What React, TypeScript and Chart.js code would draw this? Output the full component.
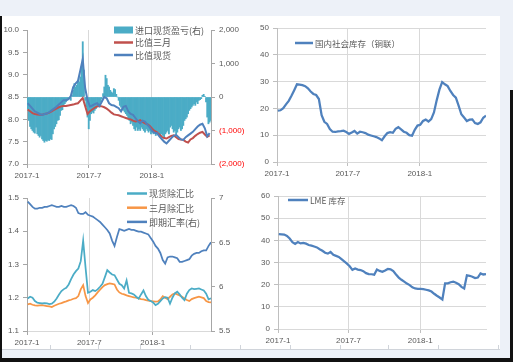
import React, { useEffect, useRef } from "react";
import { Chart, registerables } from "chart.js";

Chart.register(...registerables);

// ---------- shared x-axis (days since 2017-01-01) ----------
const X_TICKS = [0, 181, 365];
const X_LABELS = ["2017-1", "2017-7", "2018-1"];
const FIRST_DAY = 2; // first observation (2017-01-03)
const WEEK = 7;
const HALF_WEEK = 3.5;

// ---------- panel 1: 比值 / 进口盈亏 ----------
const ratioSpot = [
  8.36, 8.30, 8.24, 8.18, 8.15, 8.12, 8.10, 8.12, 8.13, 8.16, 8.20, 8.24, 8.28, 8.33, 8.38, 8.43,
  8.43, 8.45, 8.52, 8.72, 8.80, 8.86, 9.10, 9.35, 8.70, 8.43, 8.29, 8.31, 8.34, 8.36, 8.30, 8.40,
  8.50, 8.47, 8.36, 8.32, 8.31, 8.28, 8.25, 8.18, 8.28, 8.30, 8.18, 8.12, 8.10, 8.03, 7.96, 7.91,
  7.97, 7.95, 7.88, 7.82, 7.74, 7.70, 7.69, 7.62, 7.56, 7.50, 7.46, 7.52, 7.58, 7.63, 7.65, 7.60,
  7.55, 7.54, 7.60, 7.64, 7.68, 7.72, 7.78, 7.84, 7.88, 7.90, 7.80, 7.62, 7.69,
];
const ratio3M = [
  8.22, 8.18, 8.14, 8.12, 8.11, 8.10, 8.10, 8.12, 8.13, 8.15, 8.18, 8.21, 8.24, 8.27, 8.29, 8.30,
  8.30, 8.31, 8.32, 8.33, 8.35, 8.36, 8.42, 8.48, 8.30, 8.12, 8.18, 8.22, 8.26, 8.29, 8.30, 8.29,
  8.27, 8.24, 8.20, 8.15, 8.11, 8.10, 8.09, 8.07, 8.05, 8.03, 8.01, 8.00, 7.97, 7.95, 7.96, 7.98,
  7.94, 7.91, 7.89, 7.85, 7.79, 7.74, 7.71, 7.66, 7.61, 7.58, 7.57, 7.60, 7.63, 7.64, 7.60, 7.56,
  7.55, 7.54, 7.50, 7.48, 7.55, 7.58, 7.63, 7.67, 7.70, 7.72, 7.66, 7.61, 7.64,
];
const importPL = [
  -350, -700, -880, -950, -1000, -1050, -1080, -900, -1100, -1150, -1200, -1150, -1250, -1300, -1350, -1300,
  -1320, -1280, -1300, -1250, -1270, -1100, -950, -880, -800, -700, -680, -550, -400, -380, -250, -200,
  -150, -100, -80, -50, -100, 50, 200, 400, 300, 350, 500, 450, 600, 900, 1650, 800,
  -100, -300, -600, -950, -700, -500, -450, -480, -400, -350, -300, -250, -280, -150, -50, 100,
  300, 650, 550, 350, 300, 200, 150, 120, 250, 220, 80, 0, -100, -250, -300, -350,
  -400, -450, -500, -550, -650, -700, -800, -750, -850, -950, -1000, -900, -1000, -950, -1000, -900,
  -950, -1000, -1050, -950, -1000, -1050, -1000, -1100, -1050, -1100, -1000, -1150, -1100, -1050, -1150, -1200,
  -1100, -1150, -1200, -1100, -1050, -1000, -1100, -900, -850, -950, -1050, -1000, -1100, -1050, -950, -900,
  -1000, -950, -850, -700, -650, -600, -500, -400, -350, -300, -250, -200, -250, -150, -200, -100,
  -80, -50, 50, 80, 20, -150, -600, -800, -750, -700,
];
const P1_LEFT_TICKS = { min: 7, max: 10, step: 0.5 };
const P1_RIGHT_TICKS = { min: -2000, max: 2000, step: 1000 };

// ---------- panel 2: 国内社会库存 ----------
const domesticStock = [
  19.2, 19.3, 20.1, 21.5, 22.8, 24.7, 26.8, 29.0, 28.9, 28.7, 28.3, 27.5, 26.3, 25.4, 25.0, 23.5,
  17.5, 15.0, 14.2, 12.3, 11.3, 11.2, 11.4, 11.5, 11.7, 11.2, 10.5, 11.0, 11.6, 10.6, 11.3, 11.1,
  10.8, 10.2, 9.9, 9.6, 9.3, 8.8, 8.1, 9.6, 10.8, 11.1, 10.9, 12.4, 13.0, 12.2, 11.3, 10.9,
  10.0, 9.8, 12.0, 13.6, 13.9, 15.3, 15.8, 15.1, 16.0, 18.5, 23.0, 27.0, 29.8, 29.0, 28.3, 26.5,
  25.0, 24.0, 21.0, 17.8, 16.6, 15.3, 15.8, 15.9, 14.5, 14.2, 14.8, 16.5, 17.3,
];

// ---------- panel 3: 除汇比 / 即期汇率 ----------
const spotExRatio = [
  1.198, 1.203, 1.200, 1.190, 1.185, 1.184, 1.183, 1.184, 1.183, 1.181, 1.182, 1.188, 1.198, 1.210, 1.220, 1.226,
  1.230, 1.240, 1.256, 1.270, 1.280, 1.288, 1.310, 1.372, 1.290, 1.215, 1.218, 1.223, 1.220, 1.225, 1.233, 1.242,
  1.262, 1.283, 1.276, 1.270, 1.268, 1.255, 1.242, 1.238, 1.228, 1.252, 1.215, 1.213, 1.210, 1.203, 1.197, 1.210,
  1.222, 1.205, 1.194, 1.190, 1.186, 1.178, 1.182, 1.190, 1.198, 1.202, 1.200, 1.182, 1.200, 1.213, 1.218, 1.210,
  1.200, 1.193, 1.212, 1.223, 1.228, 1.226, 1.227, 1.228, 1.225, 1.222, 1.212, 1.195, 1.198,
];
const m3ExRatio = [
  1.180, 1.182, 1.179, 1.177, 1.176, 1.177, 1.178, 1.176, 1.175, 1.174, 1.172, 1.176, 1.179, 1.182, 1.184, 1.187,
  1.189, 1.192, 1.194, 1.197, 1.199, 1.205, 1.225, 1.238, 1.205, 1.184, 1.195, 1.200, 1.207, 1.216, 1.224, 1.232,
  1.238, 1.241, 1.243, 1.242, 1.240, 1.225, 1.216, 1.212, 1.210, 1.207, 1.205, 1.203, 1.201, 1.200, 1.198, 1.196,
  1.195, 1.193, 1.191, 1.190, 1.189, 1.188, 1.189, 1.195, 1.205, 1.200, 1.196, 1.203, 1.210, 1.213, 1.210, 1.207,
  1.203, 1.198, 1.193, 1.190, 1.196, 1.199, 1.201, 1.203, 1.201, 1.199, 1.190, 1.187, 1.186,
];
const usdCny = [
  6.96, 6.93, 6.90, 6.88, 6.88, 6.89, 6.89, 6.90, 6.90, 6.91, 6.92, 6.91, 6.90, 6.90, 6.91, 6.90,
  6.90, 6.91, 6.92, 6.91, 6.89, 6.83, 6.82, 6.82, 6.84, 6.81, 6.80, 6.79, 6.77, 6.75, 6.73, 6.70,
  6.67, 6.64, 6.60, 6.52, 6.46, 6.56, 6.65, 6.64, 6.63, 6.64, 6.65, 6.64, 6.64, 6.63, 6.62, 6.62,
  6.61, 6.60, 6.59, 6.55, 6.51, 6.46, 6.43, 6.38, 6.30, 6.26, 6.33, 6.34, 6.34, 6.33, 6.32, 6.28,
  6.28, 6.29, 6.30, 6.31, 6.35, 6.37, 6.38, 6.38, 6.40, 6.41, 6.41, 6.46, 6.50,
];

// ---------- panel 4: LME 库存 ----------
const lmeStock = [
  42.8, 42.7, 42.6, 42.0, 40.8, 39.2, 38.4, 39.2, 38.6, 38.8, 38.5, 37.9, 37.6, 37.2, 36.8, 36.0,
  35.3, 34.4, 34.0, 34.8, 33.5, 33.0, 32.5, 31.5, 30.5, 29.5, 28.3, 26.7, 27.3, 26.8, 26.6, 26.1,
  25.2, 24.8, 24.7, 24.5, 26.8, 26.2, 25.8, 26.4, 27.1, 26.9, 26.1, 24.6, 23.2, 22.2, 21.4, 20.5,
  19.8, 18.8, 18.3, 18.1, 18.1, 18.0, 17.7, 17.4, 16.9, 15.9, 15.0, 14.2, 13.3, 20.6, 20.6, 21.1,
  21.4, 20.9, 20.2, 19.0, 18.3, 24.2, 24.0, 23.6, 23.0, 23.2, 25.1, 24.6, 24.8,
];

// ---------- styles ----------
const FONT_FAMILY = "'Liberation Sans', 'Noto Sans CJK SC', sans-serif";
const LEGEND_FAMILY = "'Noto Sans CJK SC', 'Liberation Sans', sans-serif";
const TEXT = "#595959";
const RED_TEXT = "#ff0000";
const GRID = "#d9d9d9";
const AXIS = "#a6a6a6";
const TEAL = "#4bacc6";
const RED = "#c0504d";
const BLUE = "#4f81bd";
const ORANGE = "#f79646";
const tickFont = { family: FONT_FAMILY, size: 8 };

const weekly = (vals: number[]) => vals.map((y, i) => ({ x: FIRST_DAY + i * WEEK, y }));
const semiWeekly = (vals: number[]) => vals.map((y, i) => ({ x: FIRST_DAY + i * HALF_WEEK, y }));

const legendPlugin = {
  id: "customLegend",
  afterDraw(chart: any, _args: any, opts: any) {
    if (!opts || !opts.items) return;
    const ctx = chart.ctx;
    ctx.save();
    ctx.font = `${opts.fontSize || 8.5}px ${LEGEND_FAMILY}`;
    ctx.textBaseline = "middle";
    ctx.textAlign = "left";
    opts.items.forEach((it: any, i: number) => {
      const ds = chart.data.datasets[it];
      const y = opts.y + i * opts.rowH;
      const color = ds.type === "bar" ? ds.backgroundColor : ds.borderColor;
      if (ds.type === "bar") {
        ctx.fillStyle = color;
        ctx.fillRect(opts.x, y - 3.5, opts.sw, 7);
      } else {
        ctx.strokeStyle = color;
        ctx.lineWidth = 2.5;
        ctx.beginPath();
        ctx.moveTo(opts.x, y);
        ctx.lineTo(opts.x + opts.sw, y);
        ctx.stroke();
      }
      ctx.fillStyle = TEXT;
      ctx.fillText(ds.label, opts.x + opts.sw + 2, y + 0.5);
    });
    ctx.restore();
  },
};

function xScale(max: number, height: number, axisColor: string) {
  return {
    type: "linear",
    min: 0,
    max,
    offset: false,
    afterBuildTicks: (s: any) => {
      s.ticks = X_TICKS.map((v) => ({ value: v }));
    },
    afterFit: (s: any) => {
      s.height = height;
    },
    ticks: {
      autoSkip: false,
      maxRotation: 0,
      minRotation: 0,
      padding: 3,
      font: tickFont,
      color: TEXT,
      callback: (v: number) => {
        const k = X_TICKS.indexOf(v);
        return k >= 0 ? X_LABELS[k] : "";
      },
    },
    grid: {
      offset: false,
      color: (c: any) => (c.tick && c.tick.value === 0 ? "rgba(0,0,0,0)" : GRID),
      tickColor: axisColor,
      tickLength: 4,
      lineWidth: 1,
    },
    border: { display: true, color: GRID },
  };
}

function yScale(o: any) {
  return {
    type: "linear",
    position: o.position,
    min: o.min,
    max: o.max,
    afterFit: (s: any) => {
      s.width = o.width;
    },
    ticks: {
      stepSize: o.step,
      padding: 4,
      font: tickFont,
      color: o.color || TEXT,
      callback: o.fmt,
    },
    grid: {
      drawOnChartArea: !!o.grid,
      color: GRID,
      tickColor: o.axisColor,
      tickLength: 4,
    },
    border: { display: true, color: o.axisColor },
  };
}

const baseOptions = (padding: any) => ({
  responsive: false,
  animation: false,
  devicePixelRatio: 1,
  layout: { padding },
  events: [],
});

function config1() {
  return {
    type: "line",
    data: {
      datasets: [
        {
          type: "bar",
          label: "进口现货盈亏(右)",
          data: semiWeekly(importPL),
          yAxisID: "y1",
          backgroundColor: TEAL,
          borderWidth: 0,
          barPercentage: 1,
          categoryPercentage: 1,
          order: 3,
        },
        {
          type: "line",
          label: "比值三月",
          data: weekly(ratio3M),
          yAxisID: "y",
          borderColor: RED,
          borderWidth: 2,
          pointRadius: 0,
          tension: 0,
          order: 2,
        },
        {
          type: "line",
          label: "比值现货",
          data: weekly(ratioSpot),
          yAxisID: "y",
          borderColor: BLUE,
          borderWidth: 2,
          pointRadius: 0,
          tension: 0,
          order: 1,
        },
      ],
    },
    options: {
      ...baseOptions({ top: 14, left: 0, right: 0, bottom: 0 }),
      scales: {
        x: xScale(538, 22, AXIS),
        y: yScale({
          position: "left",
          min: P1_LEFT_TICKS.min,
          max: P1_LEFT_TICKS.max,
          step: P1_LEFT_TICKS.step,
          width: 27,
          axisColor: AXIS,
          grid: false,
          fmt: (v: number) => v.toFixed(1),
        }),
        y1: yScale({
          position: "right",
          min: P1_RIGHT_TICKS.min,
          max: P1_RIGHT_TICKS.max,
          step: P1_RIGHT_TICKS.step,
          width: 39,
          axisColor: AXIS,
          grid: false,
          color: (c: any) => (c.tick && c.tick.value < 0 ? RED_TEXT : TEXT),
          fmt: (v: number) =>
            v < 0 ? `(${Math.abs(v).toLocaleString("en-US")})` : v.toLocaleString("en-US"),
        }),
      },
      plugins: {
        legend: { display: false },
        tooltip: { enabled: false },
        customLegend: { x: 114, y: 14, rowH: 12.5, sw: 19, fontSize: 9, items: [0, 1, 2] },
      },
    },
    plugins: [legendPlugin],
  };
}

function config2() {
  return {
    type: "line",
    data: {
      datasets: [
        {
          type: "line",
          label: "国内社会库存（铜联）",
          data: weekly(domesticStock),
          borderColor: BLUE,
          borderWidth: 2.25,
          pointRadius: 0,
          tension: 0,
        },
      ],
    },
    options: {
      ...baseOptions({ top: 12, left: 0, right: 14, bottom: 0 }),
      scales: {
        x: xScale(534, 24, "#bfbfbf"),
        y: yScale({
          position: "left",
          min: 0,
          max: 50,
          step: 10,
          width: 22,
          axisColor: "#bfbfbf",
          grid: true,
          fmt: (v: number) => String(v),
        }),
      },
      plugins: {
        legend: { display: false },
        tooltip: { enabled: false },
        customLegend: { x: 40, y: 27, rowH: 12, sw: 18, fontSize: 8.5, items: [0] },
      },
    },
    plugins: [legendPlugin],
  };
}

function config3() {
  return {
    type: "line",
    data: {
      datasets: [
        {
          type: "line",
          label: "现货除汇比",
          data: weekly(spotExRatio),
          yAxisID: "y",
          borderColor: TEAL,
          borderWidth: 1.75,
          pointRadius: 0,
          tension: 0,
        },
        {
          type: "line",
          label: "三月除汇比",
          data: weekly(m3ExRatio),
          yAxisID: "y",
          borderColor: ORANGE,
          borderWidth: 1.75,
          pointRadius: 0,
          tension: 0,
        },
        {
          type: "line",
          label: "即期汇率(右)",
          data: weekly(usdCny),
          yAxisID: "y1",
          borderColor: BLUE,
          borderWidth: 1.75,
          pointRadius: 0,
          tension: 0,
        },
      ],
    },
    options: {
      ...baseOptions({ top: 12, left: 0, right: 0, bottom: 0 }),
      scales: {
        x: xScale(534, 17, AXIS),
        y: yScale({
          position: "left",
          min: 1.1,
          max: 1.5,
          step: 0.1,
          width: 27,
          axisColor: AXIS,
          grid: false,
          fmt: (v: number) => v.toFixed(1),
        }),
        y1: yScale({
          position: "right",
          min: 5.5,
          max: 7,
          step: 0.5,
          width: 39,
          axisColor: AXIS,
          grid: false,
          fmt: (v: number) => String(Math.round(v * 10) / 10),
        }),
      },
      plugins: {
        legend: { display: false },
        tooltip: { enabled: false },
        customLegend: { x: 127, y: 7.5, rowH: 14.2, sw: 20, fontSize: 9, items: [0, 1, 2] },
      },
    },
    plugins: [legendPlugin],
  };
}

function config4() {
  return {
    type: "line",
    data: {
      datasets: [
        {
          type: "line",
          label: "LME 库存",
          data: weekly(lmeStock),
          borderColor: BLUE,
          borderWidth: 2.25,
          pointRadius: 0,
          tension: 0,
        },
      ],
    },
    options: {
      ...baseOptions({ top: 10, left: 0, right: 14, bottom: 0 }),
      scales: {
        x: xScale(534, 19, "#bfbfbf"),
        y: yScale({
          position: "left",
          min: 0,
          max: 60,
          step: 10,
          width: 23,
          axisColor: "#bfbfbf",
          grid: true,
          fmt: (v: number) => String(v),
        }),
      },
      plugins: {
        legend: { display: false },
        tooltip: { enabled: false },
        customLegend: { x: 33, y: 14, rowH: 12, sw: 20, fontSize: 8.5, items: [0] },
      },
    },
    plugins: [legendPlugin],
  };
}

function Panel(props: { left: number; top: number; width: number; height: number; make: () => any }) {
  const ref = useRef<HTMLCanvasElement | null>(null);
  useEffect(() => {
    if (!ref.current) return;
    const chart = new Chart(ref.current, props.make());
    return () => chart.destroy();
  }, []);
  return (
    <canvas
      ref={ref}
      width={props.width}
      height={props.height}
      style={{
        position: "absolute",
        left: props.left,
        top: props.top,
        width: props.width,
        height: props.height,
      }}
    />
  );
}

const SHEET_TICKS = [50, 98, 140, 190, 240, 290, 340, 388, 438, 498];

export default function App() {
  return (
    <div
      style={{
        position: "fixed",
        left: 0,
        top: 0,
        width: 513,
        height: 362,
        background: "#edf1f8",
        overflow: "hidden",
      }}
    >
      <div style={{ position: "absolute", left: 1, top: 16, width: 499, height: 333, background: "#ffffff" }} />
      <div style={{ position: "absolute", left: 0, top: 349, width: 500, height: 1, background: "#d0d4da" }} />
      {SHEET_TICKS.map((x) => (
        <div key={x} style={{ position: "absolute", left: x, top: 345, width: 1, height: 5, background: "#d0d4da" }} />
      ))}
      <div style={{ position: "absolute", left: 0, top: 16, width: 2, height: 346, background: "#111" }} />
      <div style={{ position: "absolute", left: 0, top: 358, width: 513, height: 4, background: "#111" }} />
      <div style={{ position: "absolute", left: 510, top: 90, width: 3, height: 272, background: "#111" }} />
      <Panel left={0} top={16} width={250} height={170} make={config1} />
      <Panel left={255} top={16} width={245} height={170} make={config2} />
      <Panel left={0} top={186} width={250} height={162} make={config3} />
      <Panel left={255} top={186} width={245} height={162} make={config4} />
    </div>
  );
}
